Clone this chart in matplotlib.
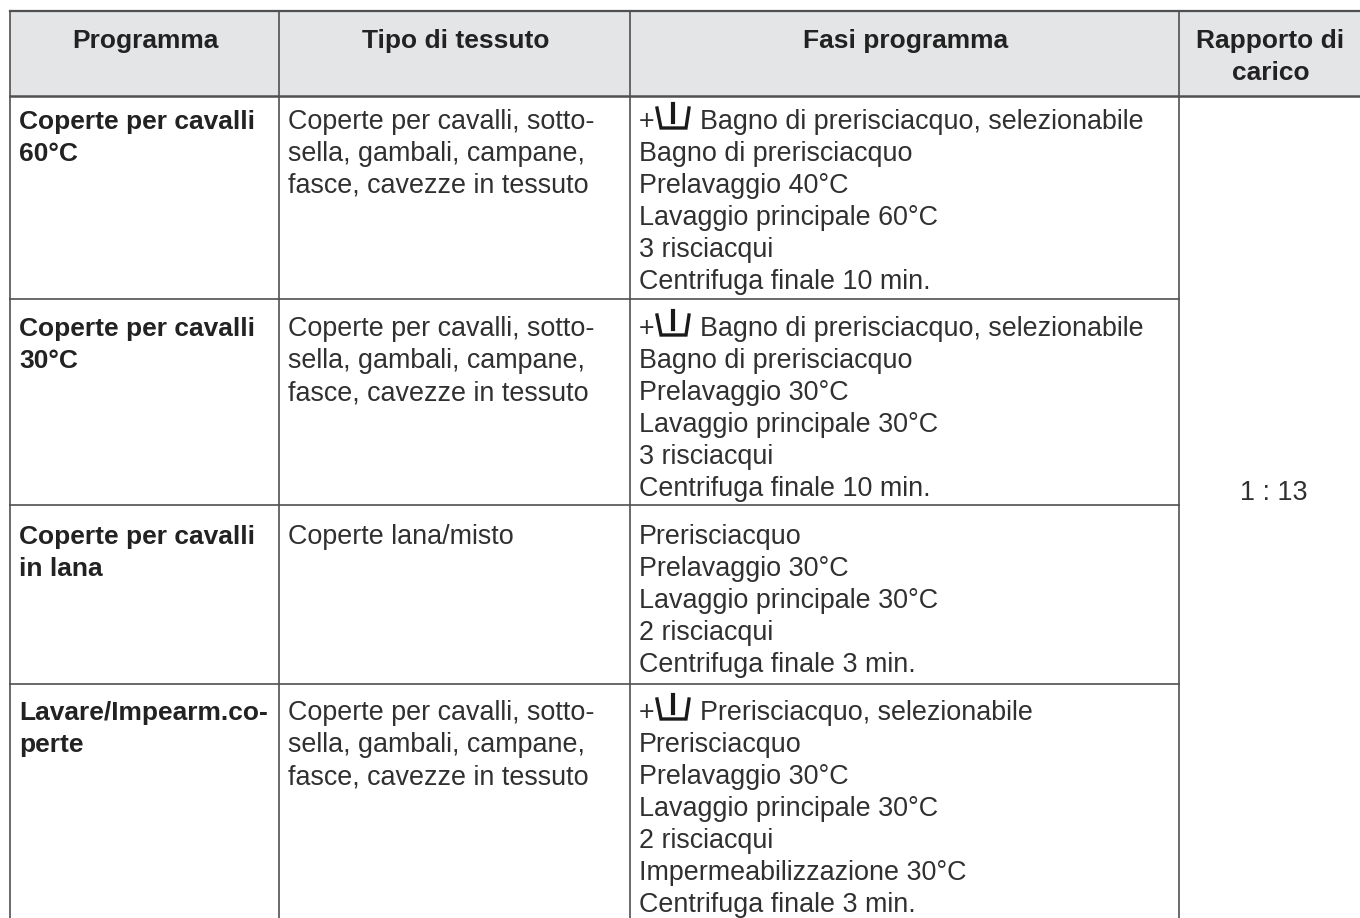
import matplotlib
matplotlib.use('Agg')
import matplotlib.pyplot as plt

plt.rcParams['font.family'] = ['Liberation Sans', 'DejaVu Sans']

headers = ['Programma', 'Tipo di tessuto', 'Fasi programma', 'Rapporto di\ncarico']
programmi = [['Coperte per cavalli', '60°C'], ['Coperte per cavalli', '30°C'],
             ['Coperte per cavalli', 'in lana'], ['Lavare/Impearm.co-', 'perte']]
tessuto_std = ['Coperte per cavalli, sotto-', 'sella, gambali, campane,', 'fasce, cavezze in tessuto']
tessuti = [tessuto_std, tessuto_std, ['Coperte lana/misto'], tessuto_std]
fasi = [['Bagno di prerisciacquo, selezionabile', 'Bagno di prerisciacquo', 'Prelavaggio 40°C',
         'Lavaggio principale 60°C', '3 risciacqui', 'Centrifuga finale 10 min.'],
        ['Bagno di prerisciacquo, selezionabile', 'Bagno di prerisciacquo', 'Prelavaggio 30°C',
         'Lavaggio principale 30°C', '3 risciacqui', 'Centrifuga finale 10 min.'],
        ['Prerisciacquo', 'Prelavaggio 30°C', 'Lavaggio principale 30°C', '2 risciacqui',
         'Centrifuga finale 3 min.'],
        ['Prerisciacquo, selezionabile', 'Prerisciacquo', 'Prelavaggio 30°C',
         'Lavaggio principale 30°C', '2 risciacqui', 'Impermeabilizzazione 30°C',
         'Centrifuga finale 3 min.']]
con_simbolo = [True, True, False, True]
rapporto = '1 : 13'

col_x = [10, 279, 630, 1179, 1360]
row_y = [11, 96, 299, 505, 684, 918]
baseline = [129, 336, 544, 720]
line_h = 32
text_col = '#303030'
line_col = '#505050'
size_r = 19.4
size_b = 19.0

fig = plt.figure(figsize=(13.6, 9.18), dpi=100)
ax = fig.add_axes([0, 0, 1, 1])
ax.set_xlim(0, 1360)
ax.set_ylim(918, 0)
ax.axis('off')

# intestazione
ax.fill_between([col_x[0], col_x[-1]], row_y[0], row_y[1], color='#e4e5e7', lw=0)
for i, h in enumerate(headers):
    xc = (col_x[i] + col_x[i + 1]) / 2
    for j, riga in enumerate(h.split('\n')):
        ax.text(xc + 1, 48 + j * 32, riga, ha='center', va='baseline', fontsize=size_b,
                fontweight='bold', color='#222222')

# griglia
ax.plot([col_x[0], col_x[-1]], [row_y[0], row_y[0]], color=line_col, lw=1.6)
ax.plot([col_x[0], col_x[-1]], [row_y[1], row_y[1]], color=line_col, lw=1.8)
for y in row_y[2:5]:
    ax.plot([col_x[0], col_x[3]], [y, y], color=line_col, lw=1.2)
for x in col_x[:4]:
    ax.plot([x, x], [row_y[0], 918], color=line_col, lw=1.2)

# righe
for r in range(4):
    b = baseline[r]
    for j, riga in enumerate(programmi[r]):
        ax.text(19, b + j * line_h, riga, va='baseline', fontsize=size_b, fontweight='bold', color='#222222')
    for j, riga in enumerate(tessuti[r]):
        ax.text(288, b + j * line_h, riga, va='baseline', fontsize=size_r, color=text_col)
    for j, riga in enumerate(fasi[r]):
        x = 639
        if j == 0 and con_simbolo[r]:
            ax.text(639, b, '+', va='baseline', fontsize=size_r, color=text_col)
            # simbolo vasca
            ax.plot([657, 661, 686, 689], [b - 21, b - 1, b - 1, b - 21], color='#1a1a1a', lw=2.4,
                    solid_joinstyle='miter')
            ax.plot([673, 673], [b - 25, b - 7], color='#1a1a1a', lw=3)
            x = 700
        ax.text(x, b + j * line_h, riga, va='baseline', fontsize=size_r, color=text_col)

ax.text((col_x[3] + col_x[4]) / 2 + 4, 493, rapporto, ha='center', va='center', fontsize=size_r, color=text_col)

fig.savefig('out.png', dpi=100)
